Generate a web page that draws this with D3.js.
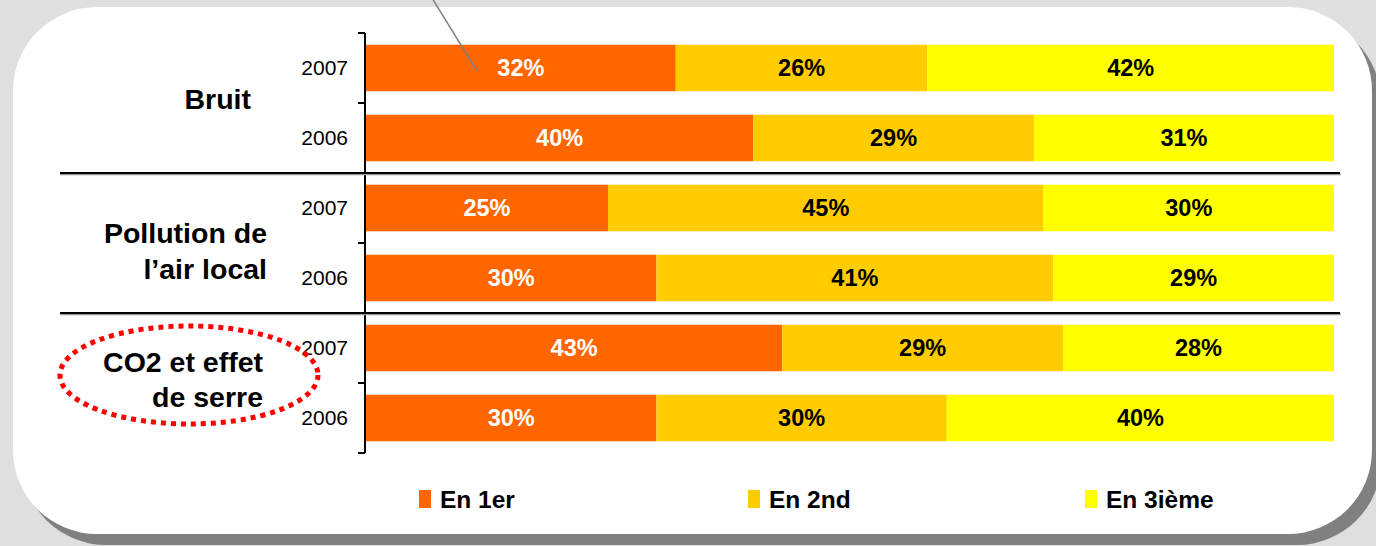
<!DOCTYPE html>
<meta charset="utf-8">
<script src="https://cdn.jsdelivr.net/npm/d3@7/dist/d3.min.js"></script>
<style>
  body { margin: 0; background: #dfdfdf; }
  svg { display: block; font-family: "Liberation Sans", Arial, sans-serif; }
</style>
<body>
<svg width="1376" height="546"></svg>
</body>
<script>
    // données
    var groupes = ["Bruit", "Pollution de|l’air local", "CO2 et effet|de serre"];
    var annees = ["2007", "2006"];
    var series = ["En 1er", "En 2nd", "En 3ième"];
    var en1er = [32, 40, 25, 30, 43, 30];
    var en2nd = [26, 29, 45, 41, 29, 30];
    var en3ieme = [42, 31, 30, 29, 28, 40];

    var couleurs = ["#ff6600", "#ffcc00", "#ffff00"];

    var svg = d3.select("svg");

    // fond du cadre + ombre
    svg.append("rect").attr("x", 22).attr("y", 18).attr("width", 1359).attr("height", 527)
        .attr("rx", 84).attr("ry", 84).attr("fill", "#808080");
    svg.append("rect").attr("x", 13).attr("y", 7).attr("width", 1359).attr("height", 527)
        .attr("rx", 84).attr("ry", 84).attr("fill", "#fff");

    // lignes de la table
    var rows = [];
    groupes.forEach(function (g, gi) {
        annees.forEach(function (a, ai) {
            var i = gi * annees.length + ai;
            rows.push({ key: g + "_" + a, groupe: gi, annee: a,
                vals: [en1er[i], en2nd[i], en3ieme[i]] });
        });
    });

    var x = d3.scaleLinear().domain([0, 100]).range([366, 1334]);
    var y = d3.scaleBand().domain(rows.map(function (d) { return d.key; }))
        .range([33, 453]).paddingInner(0.335).paddingOuter(0.1675);

    var step = y.step();

    // barres empilées
    var stack = d3.stack().keys([0, 1, 2]).value(function (d, k) { return d.vals[k]; });
    var layers = stack(rows);

    var gBars = svg.append("g");
    layers.forEach(function (layer, k) {
        gBars.selectAll(null).data(layer).enter().append("rect")
            .attr("x", function (d) { return x(d[0]); })
            .attr("width", function (d) { return x(d[1]) - x(d[0]); })
            .attr("y", function (d) { return y(d.data.key); })
            .attr("height", y.bandwidth())
            .attr("fill", couleurs[k]);

        gBars.selectAll(null).data(layer).enter().append("text")
            .attr("x", function (d) { return (x(d[0]) + x(d[1])) / 2; })
            .attr("y", function (d) { return y(d.data.key) + y.bandwidth() / 2; })
            .attr("dy", "0.36em")
            .attr("text-anchor", "middle")
            .attr("font-size", 23.5).attr("font-weight", "bold")
            .attr("fill", k == 0 ? "#fff" : "#000")
            .text(function (d) { return (d[1] - d[0]) + "%"; });
    });

    // axe vertical
    var y0 = y.range()[0], y1 = y.range()[1];
    svg.append("line").attr("x1", 365).attr("x2", 365).attr("y1", y0).attr("y2", y1)
        .attr("stroke", "#000").attr("stroke-width", 2);
    svg.selectAll(null).data(d3.range(rows.length + 1)).enter().append("line")
        .attr("x1", 358).attr("x2", 365)
        .attr("y1", function (i) { return y0 + i * step; })
        .attr("y2", function (i) { return y0 + i * step; })
        .attr("stroke", "#000").attr("stroke-width", 2);

    // années
    svg.selectAll(null).data(rows).enter().append("text")
        .attr("x", 348)
        .attr("y", function (d) { return y(d.key) + y.bandwidth() / 2; })
        .attr("dy", "0.35em")
        .attr("text-anchor", "end")
        .attr("font-size", 21)
        .text(function (d) { return d.annee; });

    // séparateurs entre groupes
    var seps = d3.range(1, groupes.length).map(function (i) { return y0 + i * annees.length * step; });
    svg.selectAll(null).data(seps).enter().append("line")
        .attr("x1", 60).attr("x2", 1341).attr("y1", function (d) { return d + 1.5; }).attr("y2", function (d) { return d + 1.5; })
        .attr("stroke", "#9a9a9a").attr("stroke-width", 1.5);
    svg.selectAll(null).data(seps).enter().append("line")
        .attr("x1", 60).attr("x2", 1340).attr("y1", function (d) { return d; }).attr("y2", function (d) { return d; })
        .attr("stroke", "#000").attr("stroke-width", 2);

    // libellés des groupes
    var grpX = [251, 267, 263];
    var grpDy = [[6], [0, 36], [-11, 24]];
    groupes.forEach(function (g, gi) {
        var cy = y0 + (gi + 0.5) * annees.length * step;
        var t = svg.append("text").attr("text-anchor", "end")
            .attr("font-size", 28.5).attr("font-weight", "bold");
        g.split("|").forEach(function (ligne, li) {
            t.append("tspan").attr("x", grpX[gi]).attr("y", cy + grpDy[gi][li]).text(ligne);
        });
    });

    // ellipse pointillée rouge
    svg.append("ellipse").attr("cx", 189).attr("cy", 375).attr("rx", 129).attr("ry", 49)
        .attr("fill", "none").attr("stroke", "#ff0000").attr("stroke-width", 5)
        .attr("stroke-dasharray", "5,5");

    // trait de légende (callout)
    svg.append("line").attr("x1", 432).attr("y1", -2).attr("x2", 477).attr("y2", 71)
        .attr("stroke", "#808080").attr("stroke-width", 1.5);

    // légende
    var legX = [419, 748, 1085];
    var leg = svg.selectAll(".leg").data(series).enter().append("g")
        .attr("transform", function (d, i) { return "translate(" + legX[i] + ",0)"; });
    leg.append("rect").attr("x", 0).attr("y", 490).attr("width", 12).attr("height", 18)
        .attr("fill", function (d, i) { return couleurs[i]; });
    leg.append("text").attr("x", 21).attr("y", 508)
        .attr("font-size", 24.5).attr("font-weight", "bold")
        .text(function (d) { return d; });
</script>
